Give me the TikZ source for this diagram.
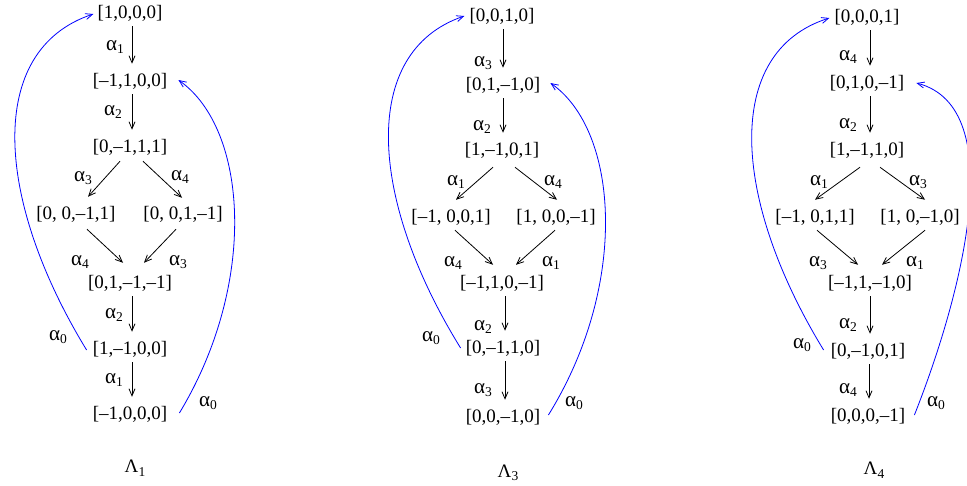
\documentclass[tikz,border=0pt]{standalone}
\usepackage{fontspec}
\setmainfont{Liberation Serif}
\usetikzlibrary{arrows.meta,calc}
\newcommand{\al}[1]{{\fontsize{21}{22}\selectfont α}\raisebox{-3.5pt}{\fontsize{13.5}{13.5}\selectfont #1}}
\newcommand{\La}[1]{Λ\raisebox{-3.5pt}{\fontsize{13.5}{13.5}\selectfont #1}}
\tikzset{
  vec/.style={inner sep=0pt, font=\fontsize{19}{22}\selectfont},
  lab/.style={inner sep=0pt, font=\fontsize{19}{22}\selectfont},
  arr/.style={line width=0.8pt, -{Straight Barb[length=7pt,width=6pt]}},
  varr/.style={arr, shorten <=5pt, shorten >=9pt},
  blu/.style={blue, line width=0.8pt, -{Straight Barb[length=7pt,width=6pt]}},
}
\begin{document}
\begin{tikzpicture}[x=1pt,y=-1pt]
\useasboundingbox (0,0) rectangle (967,485);
% ---------------- Lambda 1 ----------------
\node[vec] (t1) at (130,13) {[1,0,0,0]};
\node[vec] (b1) at (130,81) {[–1,1,0,0]};
\node[vec] (c1) at (130,147) {[0,–1,1,1]};
\node[vec] (l1) at (76,214) {[0, 0,–1,1]};
\node[vec] (r1) at (183,214) {[0, 0,1,–1]};
\node[vec] (d1) at (130,283) {[0,1,–1,–1]};
\node[vec] (e1) at (130,349) {[1,–1,0,0]};
\node[vec] (f1) at (130,414) {[–1,0,0,0]};
\node[lab] (L1) at (135,468) {\La{1}};
\draw[varr] ([xshift=2pt]t1.south) -- ([xshift=2pt]b1.north);
\draw[varr] ([xshift=2pt]b1.south) -- ([xshift=2pt]c1.north);
\draw[arr] ($(c1.south)+(-10,6)$) -- ($(l1.north)+(12,-9)$);
\draw[arr] ($(c1.south)+(13,6)$) -- ($(r1.north)+(-1,-8)$);
\draw[arr] ($(l1.south)+(11,7)$) -- ($(d1.north)+(-7,-12)$);
\draw[arr] ($(r1.south)+(-7,7)$) -- ($(d1.north)+(14,-12)$);
\draw[varr] ([xshift=2pt]d1.south) -- ([xshift=2pt]e1.north);
\draw[varr] ([xshift=2pt]e1.south) -- ([xshift=2pt]f1.north);
\node[lab] (a11) at (115,47) {\al{1}};
\node[lab] (a12) at (113,112) {\al{2}};
\node[lab] (a13) at (83,178) {\al{3}};
\node[lab] (a14) at (180,177) {\al{4}};
\node[lab] (a15) at (80,262) {\al{4}};
\node[lab] (a16) at (178,262) {\al{3}};
\node[lab] (a17) at (114,315) {\al{2}};
\node[lab] (a18) at (114,380) {\al{1}};
\node[lab] (a19) at (58,337) {\al{0}};
\node[lab] (a10) at (208,403) {\al{0}};
\draw[blu] ($(e1.west)+(-6,1)$) .. controls (-5,200) and (-15,50) .. ($(t1.west)+(-4,1)$);
\draw[blu] ($(f1.east)+(12,-1)$) .. controls (258,283) and (248,129) .. ($(b1.east)+(11,-1)$);
% ---------------- Lambda 3 ----------------
\node[vec] (t2) at (502,16) {[0,0,1,0]};
\node[vec] (b2) at (503,85) {[0,1,–1,0]};
\node[vec] (c2) at (502,150) {[1,–1,0,1]};
\node[vec] (l2) at (451,217) {[–1, 0,0,1]};
\node[vec] (r2) at (556,217) {[1, 0,0,–1]};
\node[vec] (d2) at (502,283) {[–1,1,0,–1]};
\node[vec] (e2) at (503,348) {[0,–1,1,0]};
\node[vec] (f2) at (503,417) {[0,0,–1,0]};
\node[lab] (L2) at (508,473) {\La{3}};
\draw[varr] ([xshift=1pt]t2.south) -- ([xshift=1pt]t2.south |- b2.north);
\draw[varr] ([xshift=1pt]t2.south |- b2.south) -- ([xshift=1pt]t2.south |- c2.north);
\draw[arr] ($(c2.south)+(-9,9)$) -- ($(l2.north)+(5,-9)$);
\draw[arr] ($(c2.south)+(13,9)$) -- ($(r2.north)+(1,-9)$);
\draw[arr] ($(l2.south)+(4,5)$) -- ($(d2.north)+(-9,-10)$);
\draw[arr] ($(r2.south)+(-1,5)$) -- ($(d2.north)+(14,-10)$);
\draw[varr] ([xshift=3pt]d2.south) -- ([xshift=3pt]d2.south |- e2.north);
\draw[varr] ([xshift=3pt]d2.south |- e2.south) -- ([xshift=3pt]d2.south |- f2.north);
\node[lab] (a21) at (483,63) {\al{3}};
\node[lab] (a22) at (482,127) {\al{2}};
\node[lab] (a23) at (456,182) {\al{1}};
\node[lab] (a24) at (553,182) {\al{4}};
\node[lab] (a25) at (453,263) {\al{4}};
\node[lab] (a26) at (551,263) {\al{1}};
\node[lab] (a27) at (483,327) {\al{2}};
\node[lab] (a28) at (483,390) {\al{3}};
\node[lab] (a29) at (431,338) {\al{0}};
\node[lab] (a20) at (574,403) {\al{0}};
\draw[blu] ($(e2.west)+(-5,0)$) .. controls (369,200) and (359,52) .. ($(t2.west)+(-5,0)$);
\draw[blu] ($(f2.east)+(8,-2)$) .. controls (629,285) and (619,131) .. ($(b2.east)+(10,-2)$);
% ---------------- Lambda 4 ----------------
\node[vec] (t3) at (867,17) {[0,0,0,1]};
\node[vec] (b3) at (867,83) {[0,1,0,–1]};
\node[vec] (c3) at (867,150) {[1,–1,1,0]};
\node[vec] (l3) at (815,217) {[–1, 0,1,1]};
\node[vec] (r3) at (920,217) {[1, 0,–1,0]};
\node[vec] (d3) at (870,283) {[–1,1,–1,0]};
\node[vec] (e3) at (868,351) {[0,–1,0,1]};
\node[vec] (f3) at (868,416) {[0,0,0,–1]};
\node[lab] (L3) at (874,470) {\La{4}};
\draw[varr] ([xshift=3pt]t3.south) -- ([xshift=3pt]b3.north);
\draw[varr] ([xshift=3pt]b3.south) -- ([xshift=3pt]c3.north);
\draw[arr] ($(c3.south)+(-7,9)$) -- ($(l3.north)+(0,-9)$);
\draw[arr] ($(c3.south)+(13,9)$) -- ($(r3.north)+(5,-9)$);
\draw[arr] ($(l3.south)+(2,5)$) -- ($(d3.north)+(-12,-10)$);
\draw[arr] ($(r3.south)+(5,5)$) -- ($(d3.north)+(12,-10)$);
\draw[varr] (d3.south) -- (d3.south |- e3.north);
\draw[varr] ([xshift=-1pt]d3.south |- e3.south) -- ([xshift=-1pt]d3.south |- f3.north);
\node[lab] (a31) at (848,57) {\al{4}};
\node[lab] (a32) at (848,125) {\al{2}};
\node[lab] (a33) at (819,182) {\al{1}};
\node[lab] (a34) at (918,182) {\al{3}};
\node[lab] (a35) at (818,263) {\al{3}};
\node[lab] (a36) at (915,263) {\al{1}};
\node[lab] (a37) at (848,325) {\al{2}};
\node[lab] (a38) at (848,390) {\al{4}};
\node[lab] (a39) at (802,345) {\al{0}};
\node[lab] (a30) at (936,403) {\al{0}};
\draw[blu] ($(e3.west)+(-7,-1)$) .. controls (732,200) and (722,52) .. ($(t3.west)+(-5,1)$);
\draw[blu] ($(f3.east)+(9,-1)$) .. controls (960,300) and (1012,108) .. ($(b3.east)+(12,0)$);
\end{tikzpicture}
\end{document}
